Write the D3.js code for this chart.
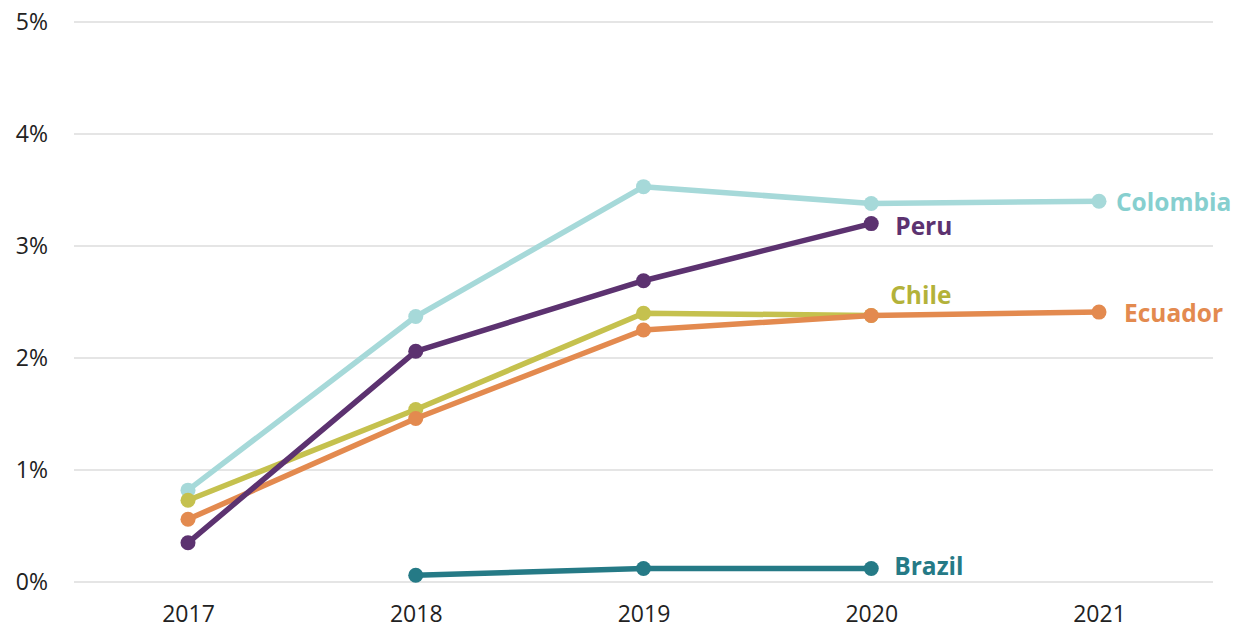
<!DOCTYPE html>
<html><head><meta charset="utf-8">
<script src="https://cdn.jsdelivr.net/npm/d3@7"></script>
<style>body{margin:0;background:#fff}svg{display:block}</style>
</head><body>
<svg id="c" width="1237" height="630"></svg>
<script>
const years = [2017, 2018, 2019, 2020, 2021];
const yTicks = [0, 1, 2, 3, 4, 5];
const colombia = [0.82, 2.37, 3.53, 3.38, 3.40];
const chile = [0.73, 1.54, 2.40, 2.38, null];
const ecuador = [0.56, 1.46, 2.25, 2.38, 2.41];
const peru = [0.35, 2.06, 2.69, 3.20, null];
const brazil = [null, 0.06, 0.12, 0.12, null];
const seriesNames = ["Colombia", "Chile", "Ecuador", "Peru", "Brazil"];
const seriesValues = [colombia, chile, ecuador, peru, brazil];
const lineColors = ["#a6d9d9", "#c5c14e", "#e38a4f", "#5c3270", "#257a86"];
const labelColors = ["#86cfcf", "#b3b23a", "#e38a4f", "#5c3270", "#257a86"];
const labelOffsets = [[17, 1], [19, -20], [25, 1], [24, 3], [23, -2]];

const svg = d3.select("#c");
const x = d3.scalePoint().domain(years).range([188, 1099]);
const y = d3.scaleLinear().domain([0, 5]).range([582, 22]);

const grid = svg.append("g");
grid.selectAll("line").data(yTicks).join("line")
  .attr("x1", 74).attr("x2", 1213)
  .attr("y1", d => y(d)).attr("y2", d => y(d))
  .attr("stroke", "#dcdcdc").attr("stroke-width", 1.5);

const yAxis = svg.append("g").attr("transform", "translate(48,0)")
  .call(d3.axisLeft(y).tickValues(yTicks).tickFormat(d => d + "%").tickSize(0).tickPadding(0));
yAxis.select(".domain").remove();
yAxis.selectAll("text").attr("font-family", "'Open Sans', sans-serif").attr("font-size", 23).attr("fill", "#222");

const xAxis = svg.append("g").attr("transform", "translate(0,606)")
  .call(d3.axisBottom(x).tickSize(0).tickPadding(0).tickFormat(d3.format("d")));
xAxis.select(".domain").remove();
xAxis.selectAll("text").attr("font-family", "'Open Sans', sans-serif").attr("font-size", 23).attr("fill", "#222");

seriesValues.forEach((vals, i) => {
  const pts = years.map((yr, j) => ({yr, v: vals[j]})).filter(p => p.v !== null);
  const line = d3.line().x(p => x(p.yr)).y(p => y(p.v));
  const g = svg.append("g");
  g.append("path").datum(pts).attr("d", line)
    .attr("fill", "none").attr("stroke", lineColors[i]).attr("stroke-width", 5.5).attr("stroke-linejoin", "round");
  g.selectAll("circle").data(pts).join("circle")
    .attr("cx", p => x(p.yr)).attr("cy", p => y(p.v)).attr("r", 7.5).attr("fill", lineColors[i]);
  const last = pts[pts.length - 1];
  g.append("text").attr("x", x(last.yr) + labelOffsets[i][0]).attr("y", y(last.v) + labelOffsets[i][1])
    .attr("dy", "0.35em").attr("font-family", "'Open Sans', sans-serif").attr("font-weight", "bold")
    .attr("font-size", 24.5).attr("fill", labelColors[i]).text(seriesNames[i]);
});
</script>
</body></html>
